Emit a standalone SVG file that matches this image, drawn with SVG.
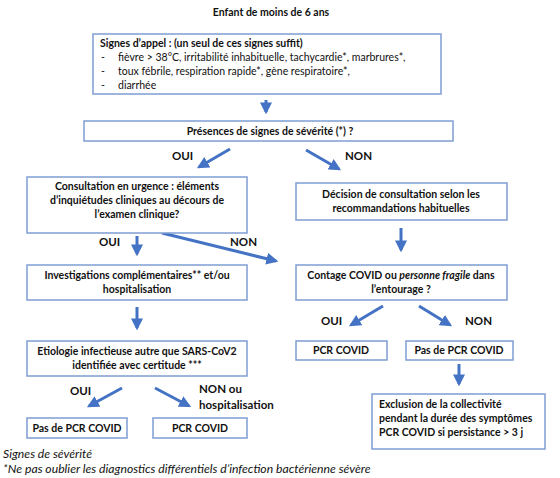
<svg xmlns="http://www.w3.org/2000/svg" width="560" height="478" viewBox="0 0 560 478">
<defs>
<marker id="ah" viewBox="0 0 10 10" refX="8" refY="5" markerWidth="4" markerHeight="4" markerUnits="strokeWidth" orient="auto">
<path d="M0,0 L10,5 L0,10 Z" fill="#4472C4"/>
</marker>
</defs>
<style>
.box{fill:#fff;stroke:#7F9DD3;stroke-width:1.5}
.t{font-family:Lato,"Liberation Sans",sans-serif;font-size:10.5px;fill:#111}
.b{font-weight:bold}
.c{text-anchor:middle}
.lbl{font-family:Lato,"Liberation Sans",sans-serif;font-size:11.5px;font-weight:bold;fill:#111}
.ar{stroke:#4472C4;stroke-width:3;fill:none;marker-end:url(#ah)}
.it{font-style:italic}
.ft{font-family:Lato,"Liberation Sans",sans-serif;font-size:12.2px;font-style:italic;fill:#111}
</style>
<rect width="560" height="478" fill="#fff"/>
<text class="t b c" x="271" y="16" font-size="11">Enfant de moins de 6 ans</text>

<g id="connectors">
<line class="ar" x1="266" y1="100" x2="266" y2="112"/>
<line class="ar" x1="230" y1="149" x2="199" y2="167"/>
<line class="ar" x1="306" y1="150" x2="339" y2="169"/>
<line class="ar" x1="137" y1="236" x2="137" y2="254"/>
<line class="ar" x1="162" y1="233" x2="276" y2="261"/>
<line class="ar" x1="401" y1="228" x2="401" y2="250"/>
<line class="ar" x1="137" y1="307" x2="137" y2="328"/>
<line class="ar" x1="122" y1="388" x2="89" y2="406"/>
<line class="ar" x1="155" y1="388" x2="189" y2="406"/>
<line class="ar" x1="383" y1="306" x2="351" y2="325"/>
<line class="ar" x1="419" y1="306" x2="450" y2="325"/>
<line class="ar" x1="459" y1="364" x2="459" y2="384"/>
</g>

<g id="labels">
<text class="lbl" x="172" y="160">OUI</text>
<text class="lbl" x="345" y="160">NON</text>
<text class="lbl" x="99" y="246">OUI</text>
<text class="lbl" x="230" y="246">NON</text>
<text class="lbl" x="321" y="325">OUI</text>
<text class="lbl" x="465" y="325">NON</text>
<text class="lbl" x="70" y="395">OUI</text>
<text class="lbl" x="199" y="393">NON ou</text>
<text class="lbl" x="199" y="409">hospitalisation</text>
</g>

<g id="signes">
<rect class="box" x="93" y="34" width="348" height="60"/>
<text class="t b" x="100" y="47">Signes d’appel : (un seul de ces signes suffit)</text>
<text class="t" x="101" y="61">-</text><text class="t" x="118" y="61">fièvre &gt; 38°C, irritabilité inhabituelle, tachycardie*, marbrures*,</text>
<text class="t" x="101" y="75">-</text><text class="t" x="118" y="75">toux fébrile, respiration rapide*, gène respiratoire*,</text>
<text class="t" x="101" y="89">-</text><text class="t" x="118" y="89">diarrhée</text>
</g>

<g id="presences">
<rect class="box" x="84" y="121" width="369" height="20"/>
<text class="t b c" x="270" y="135">Présences  de signes de sévérité (*) ?</text>
</g>

<g id="consultation">
<rect class="box" x="27" y="177" width="220" height="56"/>
<text class="t b c" x="137" y="190">Consultation en urgence : éléments</text>
<text class="t b c" x="137" y="204">d’inquiétudes cliniques au décours de</text>
<text class="t b c" x="137" y="218">l’examen clinique?</text>
</g>

<g id="decision">
<rect class="box" x="296" y="183" width="211" height="37"/>
<text class="t b c" x="401" y="198">Décision de consultation selon les</text>
<text class="t b c" x="401" y="212">recommandations habituelles</text>
</g>

<g id="investigations">
<rect class="box" x="27" y="265" width="220" height="35"/>
<text class="t b c" x="137" y="279">Investigations complémentaires** et/ou</text>
<text class="t b c" x="137" y="293">hospitalisation</text>
</g>

<g id="contage">
<rect class="box" x="296" y="265" width="211" height="35"/>
<text class="t b c" x="401" y="279">Contage COVID ou <tspan class="it">personne fragile</tspan> dans</text>
<text class="t b c" x="401" y="293">l’entourage ?</text>
</g>

<g id="etiologie">
<rect class="box" x="27" y="341" width="220" height="35"/>
<text class="t b c" x="137" y="355">Etiologie infectieuse autre que SARS-CoV2</text>
<text class="t b c" x="137" y="369">identifiée avec certitude ***</text>
</g>

<g id="pcr-right">
<rect class="box" x="296" y="341" width="91" height="19"/>
<text class="t b c" x="341" y="354">PCR COVID</text>
</g>

<g id="pas-pcr-right">
<rect class="box" x="406" y="341" width="107" height="19"/>
<text class="t b c" x="459" y="354">Pas de PCR COVID</text>
</g>

<g id="exclusion">
<rect class="box" x="372" y="394" width="173" height="55"/>
<text class="t b" x="379" y="408">Exclusion de la collectivité</text>
<text class="t b" x="379" y="422">pendant la durée des symptômes</text>
<text class="t b" x="379" y="436">PCR COVID si persistance &gt; 3 j</text>
</g>

<g id="pas-pcr-left">
<rect class="box" x="27" y="418" width="100" height="20"/>
<text class="t b c" x="77" y="432">Pas de PCR COVID</text>
</g>

<g id="pcr-left">
<rect class="box" x="153" y="418" width="94" height="20"/>
<text class="t b c" x="200" y="432">PCR COVID</text>
</g>

<text class="ft" x="3" y="458">Signes de sévérité</text>
<text class="ft" x="3" y="473">*Ne pas oublier les diagnostics différentiels d’infection bactérienne sévère</text>
</svg>
